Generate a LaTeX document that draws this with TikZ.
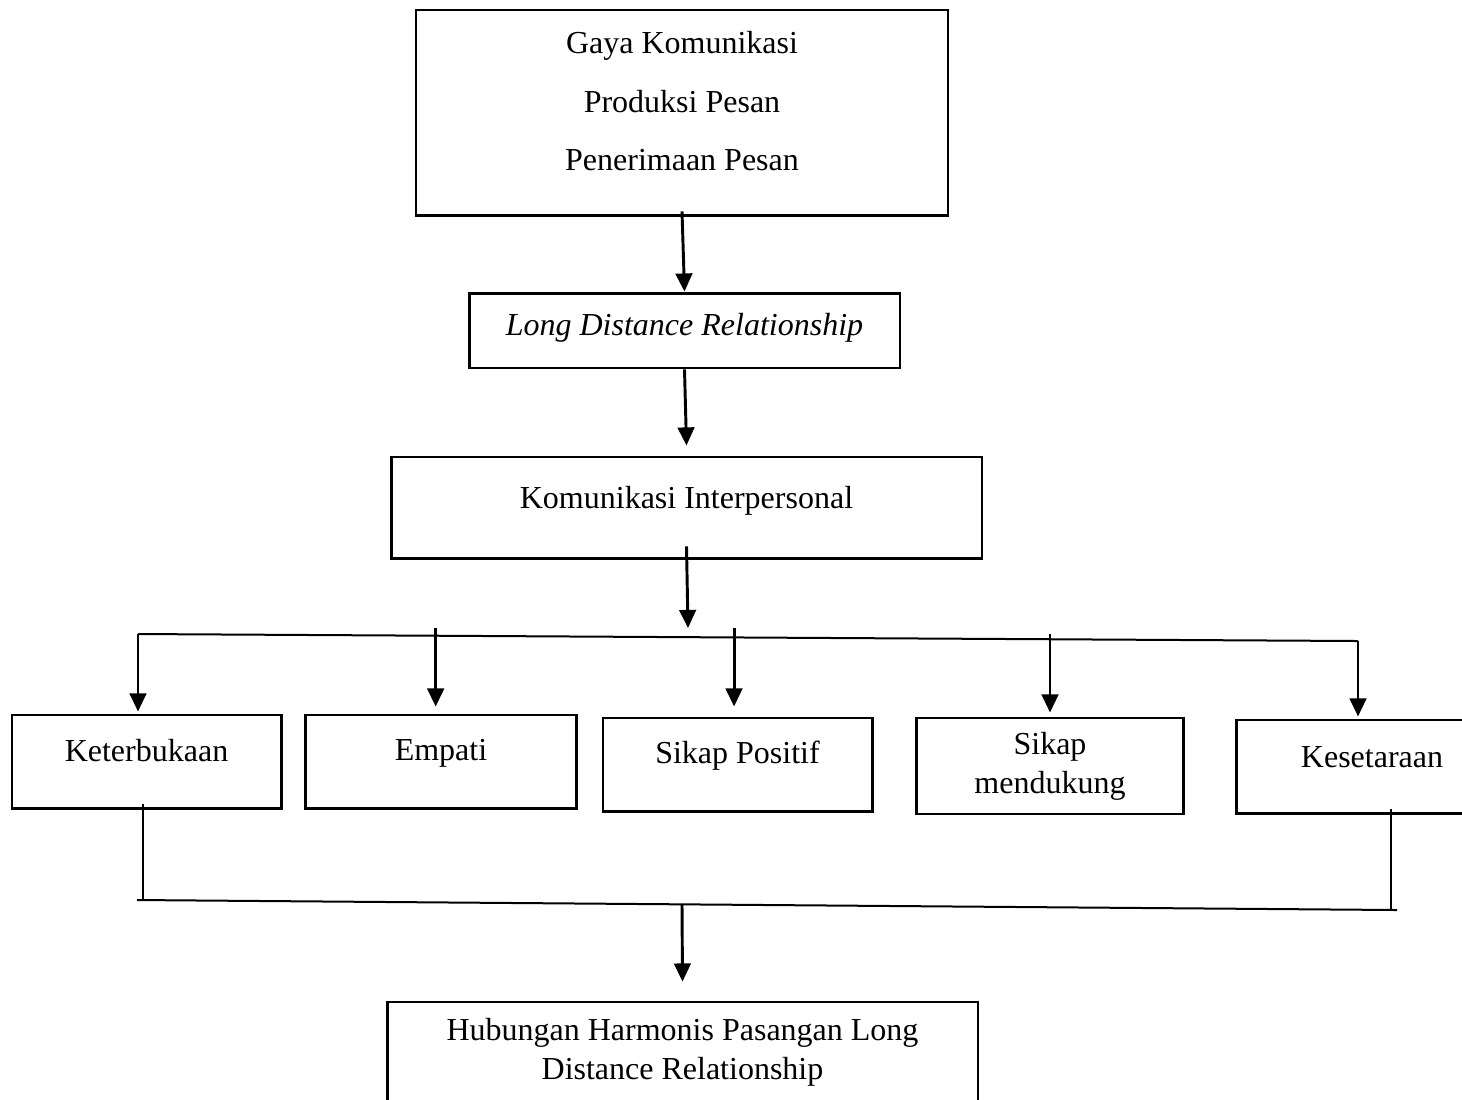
\documentclass[tikz,border=0pt]{standalone}
\usepackage{fontspec}
\setmainfont{Liberation Serif}
\usetikzlibrary{arrows.meta,calc}

\begin{document}
\begin{tikzpicture}[x=0.375pt,y=-0.375pt,
   box/.style={rectangle,draw,line width=1.1pt,inner sep=0pt,
    font=\fontsize{12}{14.5}\selectfont,align=center},
   arrow/.style={-{Triangle[width=6.2pt,length=6.8pt]},line width=1.1pt},
   bus/.style={line width=0.75pt}
    ]
    \useasboundingbox (0,0) rectangle (1462,1099);

    % Boxes:
    \node[box,minimum width=199.5pt,minimum height=76.9pt] at (682,112.5) (gaya)
      {\raisebox{3pt}[\height][\depth]{\begin{tabular}{@{}c@{}}Gaya Komunikasi\\[7.5pt]
       Produksi Pesan\\[7.5pt]Penerimaan Pesan\end{tabular}}};
    \node[box,minimum width=161.6pt,minimum height=28.1pt] at (684.5,330.5) (ldr)
      {\raisebox{1pt}[\height][\depth]{\textit{Long Distance Relationship}}};
    \node[box,minimum width=221.6pt,minimum height=37.9pt] at (686.5,507.5) (interp)
      {\raisebox{2.5pt}[\height][\depth]{Komunikasi Interpersonal}};

    % five aspects
    \node[box,minimum width=100.9pt,minimum height=34.9pt] at (146.5,761.5) (buka)
      {\raisebox{4.3pt}[\height][\depth]{Keterbukaan}};
    \node[box,minimum width=101.3pt,minimum height=34.9pt] at (441,761.5) (empati)
      {\raisebox{3.2pt}[\height][\depth]{Empati}};
    \node[box,minimum width=100.9pt,minimum height=34.9pt] at (737.5,764.5) (positif)
      {\raisebox{3.2pt}[\height][\depth]{Sikap Positif}};
    \node[box,minimum width=99.8pt,minimum height=36pt] at (1050,766) (dukung)
      {Sikap\\mendukung};
    \node[box,minimum width=101.3pt,minimum height=34.9pt] at (1372,766.5) (setara)
      {\raisebox{3.6pt}[\height][\depth]{Kesetaraan}};

    % result
    \node[box,minimum width=221.6pt,minimum height=37.9pt] at (682.5,1052.5) (harmonis)
      {Hubungan Harmonis Pasangan Long\\Distance Relationship};

    % branch points
    \coordinate (busL) at (138,634);
    \coordinate (busR) at (1358,641);
    \coordinate (split) at (688,628);
    \coordinate (joinL) at (137,900);
    \coordinate (joinR) at (1397,910);
    \coordinate (merge) at (682,905);

    % arrows
    \draw[arrow] ([yshift=1.9pt]gaya.south) -- (ldr.north);
    \draw[arrow] (ldr.south) -- ([yshift=3.75pt]interp.north);
    \draw[arrow] ([yshift=4.9pt]interp.south) -- (split);

    \draw[bus] (busL) -- (busR);
    \draw[arrow] (busL) -- ([yshift=0.75pt]busL |- buka.north);
    \draw[arrow] ([xshift=-2pt]empati.north |- split) -- ([xshift=-2pt,yshift=2.6pt]empati.north);
    \draw[arrow] ([xshift=-1.3pt]positif.north |- split) -- ([xshift=-1.3pt,yshift=3.75pt]positif.north);
    \draw[arrow] (dukung.north |- busL) -- ([yshift=1.5pt]dukung.north);
    \draw[arrow] (busR) -- ([yshift=0.75pt]busR |- setara.north);

    % ... join lines
    \draw[bus] ([xshift=2.25pt,yshift=1.9pt]joinL |- buka.south) -- ([xshift=2.25pt]joinL);
    \draw[bus] ([xshift=-2.25pt,yshift=1.9pt]joinR |- setara.south) -- ([xshift=-2.25pt]joinR);
    \draw[bus] (joinL) -- (joinR);
    \draw[arrow] (merge) -- ([yshift=7.1pt]harmonis.north);

\end{tikzpicture}
\end{document}
